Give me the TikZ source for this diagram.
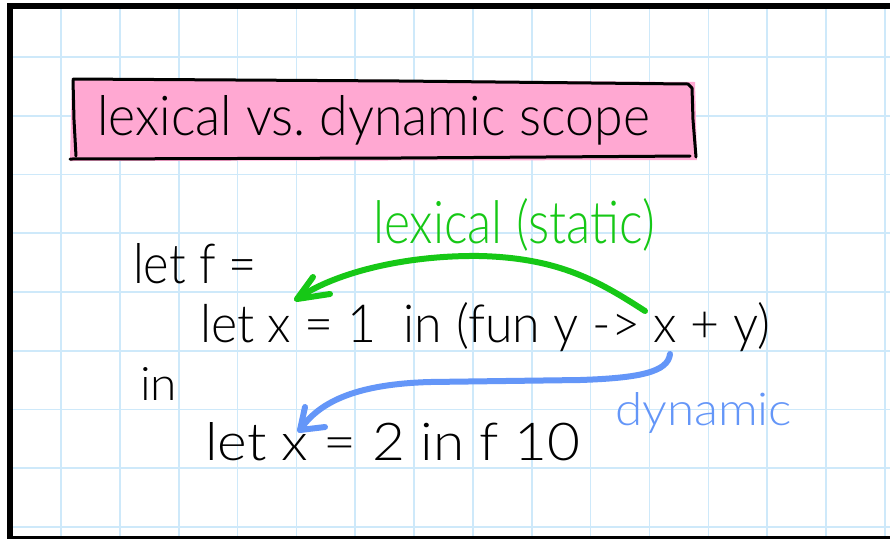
\documentclass[tikz,border=0pt]{standalone}
\usepackage{fontspec}
\setmainfont{Lato}[UprightFont=* Light]
\usepackage{graphicx}
\definecolor{gridblue}{RGB}{206,233,250}
\definecolor{titlepink}{RGB}{255,168,210}
\definecolor{arrgreen}{RGB}{22,200,22}
\definecolor{arrblue}{RGB}{100,150,248}
\tikzset{
  txt/.style={anchor=base west, inner sep=0pt, outer sep=0pt},
  gridline/.style={draw=gridblue, line width=1.6pt},
  frame/.style={fill=black},
  hand/.style={line width=6pt, line cap=round, line join=round},
}
\begin{document}
\begin{tikzpicture}[x=1pt,y=-1pt]
\useasboundingbox (0,0) rectangle (890,539);
\fill[white] (0,0) rectangle (890,539);
% grid
\foreach \k in {0,...,14} {
  \draw[gridline] ({61+58.85*\k},9) -- ({61+58.85*\k},536);
}
\foreach \k in {0,...,8} {
  \draw[gridline] (13,{57+58.75*\k}) -- (890,{57+58.75*\k});
}
% frame
\fill[frame] (7,3) rectangle (13,539);
\fill[frame] (7,3) rectangle (890,9);
\fill[frame] (7,536) rectangle (890,539);
% title box
\fill[titlepink] (72,78) -- (695,82) -- (697,160) -- (70,161) -- cycle;
\draw[line width=3pt, line cap=round, line join=round]
  (73,79) -- (400,81) -- (688,84) -- (692,88) -- (693,120) -- (696,157);
\draw[line width=3pt, line cap=round] (70,159) -- (400,158) -- (690,156);
\draw[line width=3pt, line cap=round] (73,80) -- (74,120) -- (76,156);
\node[txt] (title) at (97,135) {\resizebox{553pt}{40pt}{lexical vs.\ dynamic scope}};
% code
\node[txt] (letf) at (133,283) {\resizebox{124pt}{40pt}{let f =}};
\node[txt] (letx1) at (200,342) {\resizebox{570pt}{40pt}{let x = 1\ \ in (fun y -> x + y)}};
\node[txt] (in) at (140,400) {\resizebox{37pt}{33pt}{in}};
\node[txt] (letx2) at (205,460) {\resizebox{375pt}{38pt}{let x = 2 in f 10}};
% labels
\node[txt, text=arrgreen] (lexlab) at (373,243) {\resizebox{282pt}{45pt}{lexical (static)}};
\node[txt, text=arrblue] (dynlab) at (615,425) {\resizebox{177pt}{33pt}{dynamic}};
% arrows
\coordinate (gs) at (645,311);
\coordinate (gt) at (297,299);
\draw[hand, arrgreen] (gs) .. controls (600,282) and (560,258) .. (480,256)
  .. controls (400,255) and (330,275) .. (gt);
\draw[hand, arrgreen] (313,277) -- (gt) -- (330,294);
\coordinate (bs) at (670,354);
\coordinate (bt) at (300,430);
\draw[hand, arrblue] (bs) .. controls (668,372) and (640,378) .. (580,380)
  -- (430,382) .. controls (360,384) and (320,400) .. (bt);
\draw[hand, arrblue] (305,407) -- (bt) -- (325,427);
\end{tikzpicture}
\end{document}
